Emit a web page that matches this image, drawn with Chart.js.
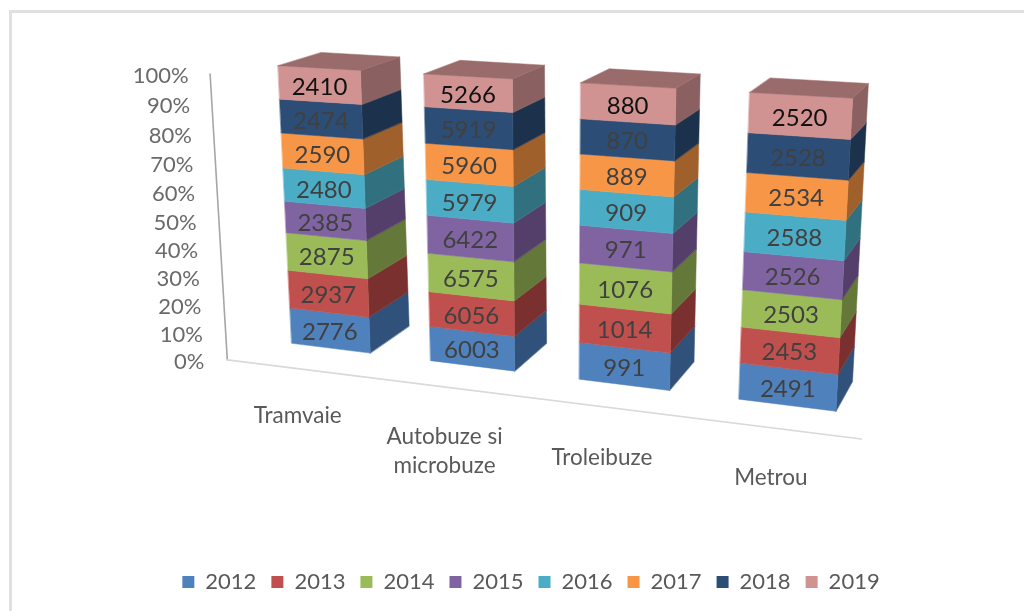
<!DOCTYPE html>
<html><head><meta charset="utf-8">
<style>html,body{margin:0;padding:0;background:#fff;overflow:hidden}canvas{display:block}
.frame{position:absolute;left:9px;top:10px;right:0;bottom:0;border-left:3px solid #e0e0e0;border-top:3px solid #e0e0e0}</style>
<script src="https://cdn.jsdelivr.net/npm/chart.js@4/dist/chart.umd.min.js"></script>
</head><body>
<div class="frame"></div>
<canvas id="c" width="1024" height="611" style="position:absolute;left:0;top:0"></canvas>
<script>
const categories = ["Tramvaie", ["Autobuze si","microbuze"], "Troleibuze", "Metrou"];
const years = ["2012","2013","2014","2015","2016","2017","2018","2019"];
const v2012 = [2776, 6003,  991, 2491];
const v2013 = [2937, 6056, 1014, 2453];
const v2014 = [2875, 6575, 1076, 2503];
const v2015 = [2385, 6422,  971, 2526];
const v2016 = [2480, 5979,  909, 2588];
const v2017 = [2590, 5960,  889, 2534];
const v2018 = [2474, 5919,  870, 2528];
const v2019 = [2410, 5266,  880, 2520];
const series = [v2012,v2013,v2014,v2015,v2016,v2017,v2018,v2019];
const frontColors = ["#4F81BD","#C0504D","#9BBB59","#8064A2","#4BACC6","#F79646","#2C4D75","#D19392"];
const sideColors  = ["#30527A","#7A302E","#64783A","#533F69","#30707F","#A0602C","#1C324C","#8A6060"];
const topColor = "#9A6B6B";
const labelColors = ["#404040","#404040","#404040","#404040","#404040","#404040","#404040","#111111"];
const FONT = "Lato, Carlito, sans-serif";

const totals = categories.map((_,i)=>series.reduce((a,s)=>a+s[i],0));
const shares = series.map(s=>s.map((v,i)=>v/totals[i]*100));

/* perspective view of the plot: front plane corners and depth vanishing point */
const Q = {bl:[291.7,343.3], br:[836,411.3], tr:[852.7,98.3], tl:[278,65.7]};
const VP = [1180,-210], DEPTH = 0.048, FLOOR = -0.037, SMIN = -0.0638, SMAX = 1.059;
const H = (()=>{
  const [x0,y0]=Q.bl,[x1,y1]=Q.br,[x2,y2]=Q.tr,[x3,y3]=Q.tl;
  const dx1=x1-x2,dx2=x3-x2,sx=x0-x1+x2-x3,dy1=y1-y2,dy2=y3-y2,sy=y0-y1+y2-y3;
  const det=dx1*dy2-dx2*dy1, g=(sx*dy2-dx2*sy)/det, h=(dx1*sy-sx*dy1)/det;
  return {a:x1-x0+g*x1,b:x3-x0+h*x3,c:x0,d:y1-y0+g*y1,e:y3-y0+h*y3,f:y0,g,h};
})();
function proj(s,t,w){
  const k=H.g*s+H.h*t+1;
  const x=(H.a*s+H.b*t+H.c)/k, y=(H.d*s+H.e*t+H.f)/k;
  return [x+w*(VP[0]-x), y+w*(VP[1]-y)];
}
function poly(ctx,pts,fill){
  ctx.beginPath();pts.forEach((p,i)=>i?ctx.lineTo(p[0],p[1]):ctx.moveTo(p[0],p[1]));ctx.closePath();
  ctx.fillStyle=fill;ctx.strokeStyle=fill;ctx.lineWidth=0.5;ctx.fill();ctx.stroke();
}
const labelDrop=[47,50,51,50];
const perspective={
  id:"perspective",
  beforeDatasetsDraw(chart){
    const ctx=chart.ctx, A=chart.chartArea, yS=chart.scales.y;
    const first=chart.getDatasetMeta(0).data;
    const W=first[0].width, L=first[0].x-W/2, R=first[first.length-1].x+W/2;
    const S=x=>(x-L)/(R-L), T=y=>(A.bottom-y)/(A.bottom-A.top);
    ctx.save();
    // axes
    ctx.lineCap="round";
    const a0=proj(SMIN,0,FLOOR), a1=proj(SMIN,1,FLOOR), a2=proj(SMAX,0,FLOOR);
    ctx.strokeStyle="#a6a6a6";ctx.lineWidth=1.6;
    ctx.beginPath();ctx.moveTo(a1[0]-1.5,a1[1]);ctx.lineTo(a0[0],a0[1]);ctx.stroke();
    ctx.strokeStyle="#d9d9d9";
    ctx.beginPath();ctx.moveTo(a0[0],a0[1]);ctx.lineTo(a2[0],a2[1]);ctx.stroke();
    // y tick labels
    ctx.font="22px "+FONT;ctx.fillStyle="#6a6a6a";ctx.textAlign="right";ctx.textBaseline="middle";
    yS.ticks.forEach(tk=>{
      const p=proj(SMIN,T(yS.getPixelForValue(tk.value)),FLOOR);
      ctx.fillText(tk.label,p[0]-23,p[1]+2);
    });
    // category labels
    ctx.font="22.5px "+FONT;ctx.fillStyle="#595959";ctx.textAlign="center";
    categories.forEach((c,i)=>{
      const p=proj(S(first[i].x),0,FLOOR);
      [].concat(c).forEach((ln,j)=>ctx.fillText(ln,p[0]-1.5,p[1]+labelDrop[i]+j*29));
    });
    // bars
    categories.forEach((c,i)=>{
      series.forEach((_,d)=>{
        const el=chart.getDatasetMeta(d).data[i];
        const s0=S(el.x-el.width/2), s1=S(el.x+el.width/2), t0=T(el.base), t1=T(el.y);
        poly(ctx,[proj(s1,t0,0),proj(s1,t1,0),proj(s1,t1,DEPTH),proj(s1,t0,DEPTH)],sideColors[d]);
        poly(ctx,[proj(s0,t0,0),proj(s1,t0,0),proj(s1,t1,0),proj(s0,t1,0)],frontColors[d]);
        if(d===series.length-1) poly(ctx,[proj(s0,t1,0),proj(s1,t1,0),proj(s1,t1,DEPTH),proj(s0,t1,DEPTH)],topColor);
      });
      ctx.font="24px "+FONT;ctx.textAlign="center";ctx.textBaseline="middle";
      series.forEach((s,d)=>{
        const el=chart.getDatasetMeta(d).data[i];
        const p=proj(S(el.x),(T(el.base)+T(el.y))/2,0);
        ctx.fillStyle=labelColors[d];ctx.fillText(String(s[i]),p[0],p[1]+2);
      });
    });
    ctx.restore();
    return false;
  }
};
new Chart(document.getElementById("c"),{
  type:"bar",
  data:{labels:categories,datasets:years.map((y,d)=>({label:y,data:shares[d],backgroundColor:frontColors[d],borderWidth:0}))},
  options:{
    responsive:false,animation:false,
    layout:{padding:{left:38,right:0,top:60,bottom:8}},
    categoryPercentage:1,barPercentage:0.574,
    scales:{
      x:{stacked:true,display:false},
      y:{stacked:true,display:false,min:0,max:100,ticks:{stepSize:10,callback:v=>v+"%"}}
    },
    plugins:{
      tooltip:{enabled:false},
      legend:{position:"bottom",labels:{boxWidth:12,boxHeight:12,padding:15,color:"#595959",font:{family:FONT,size:22}}}
    }
  },
  plugins:[perspective]
});
</script>
</body></html>
